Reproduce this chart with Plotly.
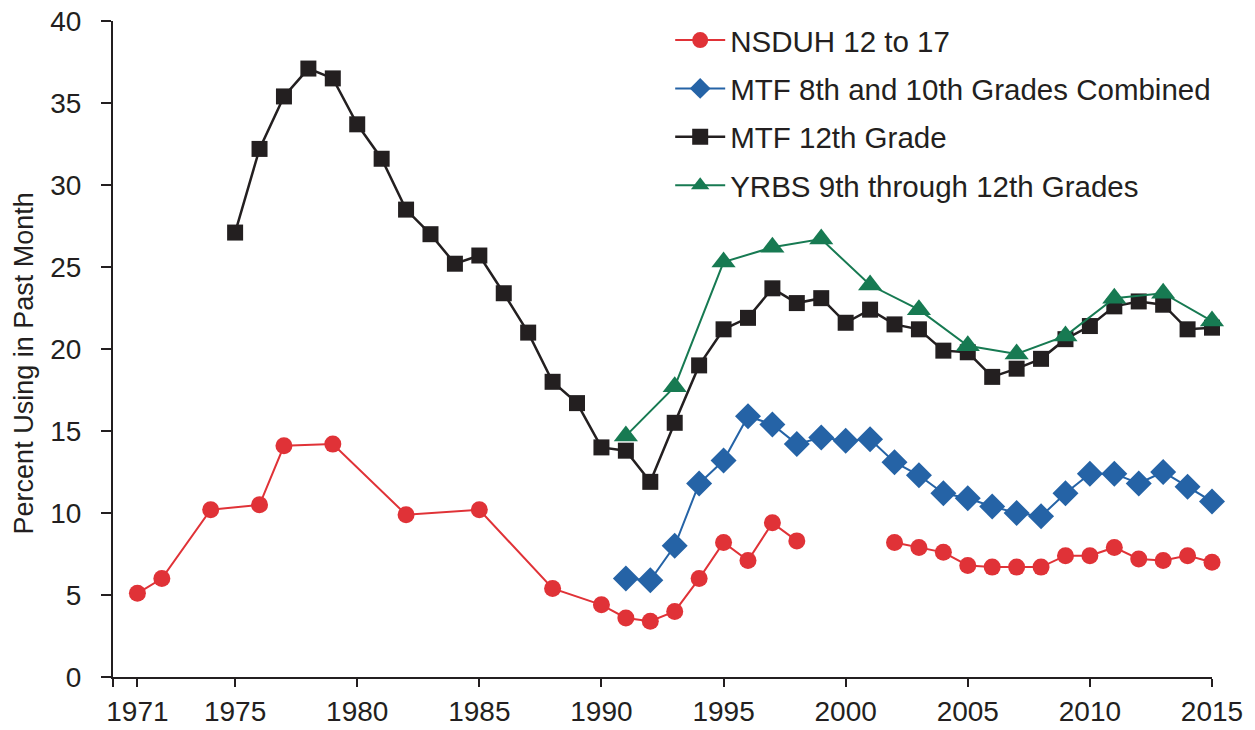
import plotly.graph_objects as go

# NSDUH 12 to 17 (None breaks the line between 1998 and 2002)
nsduh_years = [1971, 1972, 1974, 1976, 1977, 1979, 1982, 1985, 1988, 1990, 1991, 1992, 1993,
               1994, 1995, 1996, 1997, 1998, 2000, 2002, 2003, 2004, 2005, 2006, 2007, 2008,
               2009, 2010, 2011, 2012, 2013, 2014, 2015]
nsduh_vals = [5.1, 6.0, 10.2, 10.5, 14.1, 14.2, 9.9, 10.2, 5.4, 4.4, 3.6, 3.4, 4.0,
              6.0, 8.2, 7.1, 9.4, 8.3, None, 8.2, 7.9, 7.6, 6.8, 6.7, 6.7, 6.7,
              7.4, 7.4, 7.9, 7.2, 7.1, 7.4, 7.0]

# MTF 8th and 10th grades combined
mtf810_years = list(range(1991, 2016))
mtf810_vals = [6.0, 5.9, 8.0, 11.8, 13.2, 15.9, 15.4, 14.2, 14.6, 14.4, 14.5, 13.1, 12.3,
               11.2, 10.9, 10.4, 10.0, 9.8, 11.2, 12.4, 12.4, 11.8, 12.5, 11.6, 10.7]

# MTF 12th grade
mtf12_years = list(range(1975, 2016))
mtf12_vals = [27.1, 32.2, 35.4, 37.1, 36.5, 33.7, 31.6, 28.5, 27.0, 25.2, 25.7, 23.4, 21.0,
              18.0, 16.7, 14.0, 13.8, 11.9, 15.5, 19.0, 21.2, 21.9, 23.7, 22.8, 23.1, 21.6,
              22.4, 21.5, 21.2, 19.9, 19.8, 18.3, 18.8, 19.4, 20.6, 21.4, 22.6, 22.9, 22.7,
              21.2, 21.3]

# YRBS 9th through 12th grades
yrbs_years = list(range(1991, 2016, 2))
yrbs_vals = [14.7, 17.7, 25.3, 26.2, 26.7, 23.9, 22.4, 20.2, 19.7, 20.8, 23.1, 23.4, 21.7]

tick_vals = [1970, 1971, 1975, 1980, 1985, 1990, 1995, 2000, 2005, 2010, 2015]
tick_text = ["", "1971", "1975", "1980", "1985", "1990", "1995", "2000", "2005", "2010", "2015"]
y_title = "Percent Using in Past Month"

FONT = "Arial, Liberation Sans, Helvetica, sans-serif"
INK = "#231F20"

fig = go.Figure()
fig.add_trace(go.Scatter(
    x=nsduh_years, y=nsduh_vals, name="NSDUH 12 to 17", mode="lines+markers",
    connectgaps=False, cliponaxis=False, legendgroup="a",
    line=dict(color="#E03237", width=2),
    marker=dict(symbol="circle", size=17, color="#E03237")))
fig.add_trace(go.Scatter(
    x=mtf810_years, y=mtf810_vals, name="MTF 8th and 10th Grades Combined", mode="lines+markers",
    cliponaxis=False, legendgroup="b",
    line=dict(color="#2563A6", width=2),
    marker=dict(symbol="diamond", size=20, color="#2563A6")))
fig.add_trace(go.Scatter(
    x=mtf12_years, y=mtf12_vals, name="MTF 12th Grade", mode="lines+markers",
    cliponaxis=False, legendgroup="c",
    line=dict(color=INK, width=2.5),
    marker=dict(symbol="square", size=16, color=INK)))
fig.add_trace(go.Scatter(
    x=yrbs_years, y=yrbs_vals, name="YRBS 9th through 12th Grades", mode="lines+markers",
    cliponaxis=False, legendgroup="d",
    line=dict(color="#177A52", width=2),
    marker=dict(symbol="triangle-up", size=21, color="#177A52")))

fig.update_layout(
    width=1255, height=730,
    margin=dict(l=113, r=43, t=21, b=53),
    paper_bgcolor="white", plot_bgcolor="white",
    font=dict(family=FONT, size=28, color=INK),
    showlegend=True,
    legend=dict(x=0.507, y=1.01, xanchor="left", yanchor="top",
                font=dict(size=29.5, color=INK),
                bgcolor="rgba(0,0,0,0)", itemwidth=50, tracegroupgap=7),
    xaxis=dict(range=[1970, 2015], tickmode="array", tickvals=tick_vals, ticktext=tick_text,
               showgrid=False, zeroline=False, showline=True, linecolor=INK, linewidth=2,
               ticks="outside", ticklen=8, tickwidth=2, tickcolor=INK, automargin=False,
               tickfont=dict(size=28, color=INK)),
    yaxis=dict(range=[0, 40], tickmode="linear", tick0=0, dtick=5,
               showgrid=False, zeroline=False, showline=True, linecolor=INK, linewidth=2,
               ticks="outside", ticklen=10, tickwidth=2, tickcolor=INK, automargin=False,
               ticklabelstandoff=14,
               tickfont=dict(size=28, color=INK)),
)

fig.add_annotation(
    text=y_title, textangle=-90, showarrow=False,
    xref="paper", yref="paper", x=-0.081, y=0.478, xanchor="center", yanchor="middle",
    font=dict(family=FONT, size=27, color=INK),
)

fig.write_html(
    "out.html",
    config={"displayModeBar": False},
    post_script="document.body.style.margin='0';document.body.style.overflow='hidden';",
)
